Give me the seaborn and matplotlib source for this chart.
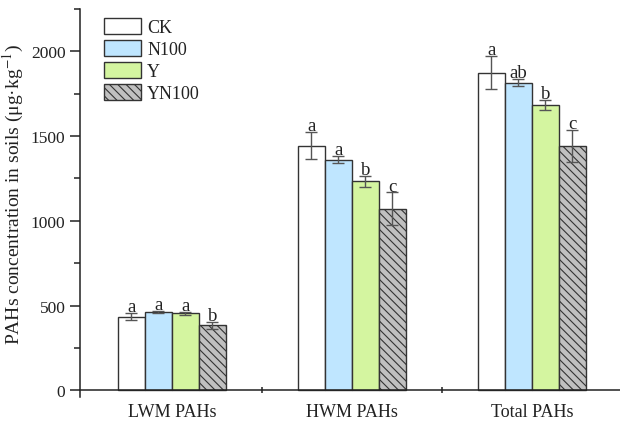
import pandas as pd
import seaborn as sns
import matplotlib.pyplot as plt
from matplotlib.patches import Patch
from matplotlib.ticker import FixedLocator

# Values
groups = ['LWM PAHs', 'HWM PAHs', 'Total PAHs']
treatments = ['CK', 'N100', 'Y', 'YN100']
ck = [435, 1442, 1875]
n100 = [460, 1360, 1815]
y_vals = [453, 1232, 1682]
yn100 = [383, 1072, 1442]
ck_err = [20, 80, 100]
n100_err = [6, 20, 20]
y_err = [10, 35, 30]
yn100_err = [22, 95, 95]
ck_sig = ['a', 'a', 'a']
n100_sig = ['a', 'a', 'ab']
y_sig = ['a', 'b', 'b']
yn100_sig = ['b', 'c', 'c']

colors = ['#FFFFFF', '#BFE6FF', '#D4F5A0', '#C0C0C0']

values = [ck, n100, y_vals, yn100]
errors = [ck_err, n100_err, y_err, yn100_err]
letters = [ck_sig, n100_sig, y_sig, yn100_sig]

rows = []
for t, vals in zip(treatments, values):
    for g, v in zip(groups, vals):
        rows.append({'group': g, 'treatment': t, 'value': v})
df = pd.DataFrame(rows)

sns.set_style('ticks')
plt.rcParams['font.family'] = ['Liberation Serif', 'DejaVu Serif']
plt.rcParams['mathtext.fontset'] = 'stix'
plt.rcParams['hatch.color'] = '#555555'
plt.rcParams['hatch.linewidth'] = 0.8

fig = plt.figure(figsize=(6.2, 4.27), dpi=100)
ax = fig.add_axes([80 / 620, 1 - 398 / 427, 1 - 80 / 620, (398 - 10) / 427])

sns.barplot(data=df, x='group', y='value', hue='treatment', hue_order=treatments,
            palette=colors, width=0.6, edgecolor='#333333', linewidth=1,
            errorbar=None, legend=False, ax=ax, saturation=1)

bar_conts = list(ax.containers)
for i, cont in enumerate(bar_conts):
    for j, bar in enumerate(cont):
        if treatments[i] == 'YN100':
            bar.set_hatch('\\\\\\\\')
        xc = bar.get_x() + bar.get_width() / 2
        top = bar.get_height()
        ax.errorbar(xc, top, yerr=errors[i][j], color='#555555', lw=1,
                    capsize=4, capthick=1, zorder=3)
        ax.text(xc, top + errors[i][j] - 12, letters[i][j], ha='center',
                va='bottom', fontsize=13.5, color='#222222', zorder=4)

ax.set_xlim(-0.51, 2.49)
ax.set_ylim(-40, 2250)
ax.spines['bottom'].set_position(('data', 0))
ax.spines['top'].set_visible(False)
ax.spines['right'].set_visible(False)
for s in ['left', 'bottom']:
    ax.spines[s].set_color('#222222')
    ax.spines[s].set_linewidth(1.1)

ax.yaxis.set_major_locator(FixedLocator([0, 500, 1000, 1500, 2000]))
ax.yaxis.set_minor_locator(FixedLocator([250, 750, 1250, 1750, 2250]))
ax.xaxis.set_minor_locator(FixedLocator([0.5, 1.5]))
ax.tick_params(axis='y', which='major', length=7, width=1.1, direction='out',
               labelsize=12.5, colors='#222222')
ax.tick_params(axis='y', which='minor', length=4, width=1.1, direction='out',
               colors='#222222')
ax.tick_params(axis='x', which='major', length=0, labelsize=13, pad=9,
               colors='#222222')
ax.tick_params(axis='x', which='minor', length=5, width=1.1, direction='inout',
               colors='#222222')

ax.set_xlabel('')
ax.set_ylabel('PAHs concentration in soils (μg·kg$^{-1}$)', fontsize=14,
              color='#222222')
ax.yaxis.set_label_coords(-0.1, 0.525)

handles = [Patch(facecolor=c, edgecolor='#333333', linewidth=1,
                 hatch='\\\\\\\\' if t == 'YN100' else None, label=t)
           for c, t in zip(colors, treatments)]
fig.legend(handles=handles, loc='upper left',
           bbox_to_anchor=(104 / 620, 1 - 19 / 427), frameon=False,
           fontsize=13, handlelength=2.05, handleheight=1.0, labelspacing=0.2,
           handletextpad=0.35, borderpad=0, borderaxespad=0, labelcolor='#222222')

fig.savefig('out.png', dpi=100)
